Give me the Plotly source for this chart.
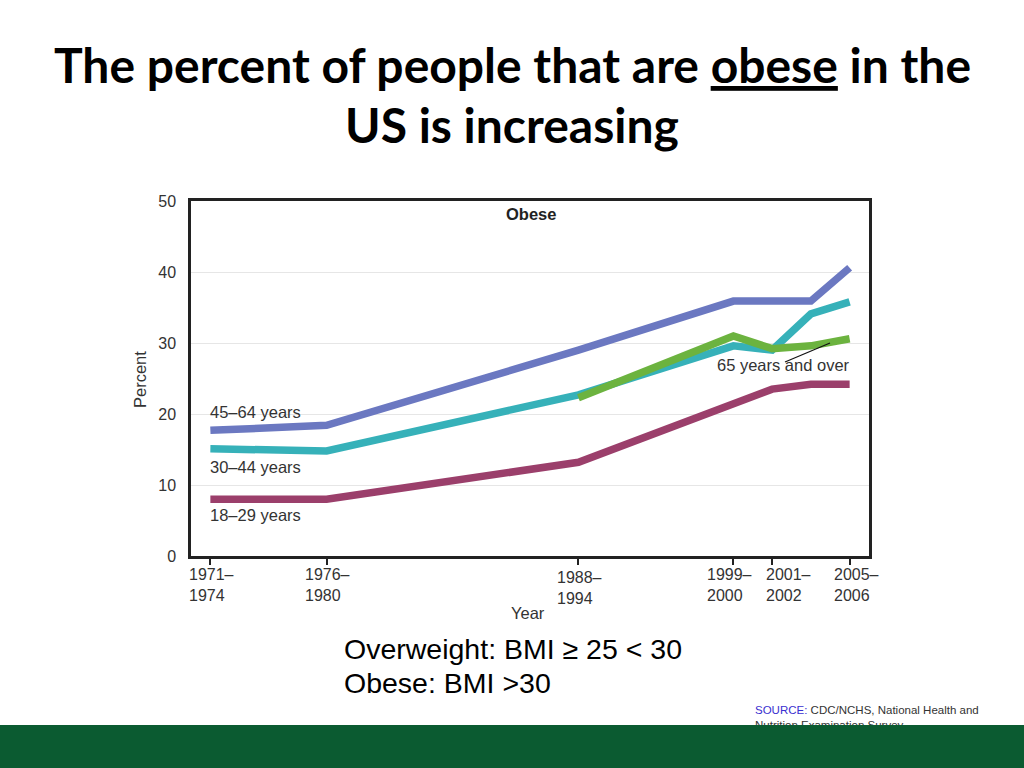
import plotly.graph_objects as go

W, H = 1024, 768

# ---- data ----
periods = [1972.5, 1978.5, 1991.5, 1999.5, 2001.5, 2003.5, 2005.5]
tick_vals = [1972.5, 1978.5, 1991.5, 1999.5, 2001.5, 2005.5]
tick_text = ["1971–<br>1974", "1976–<br>1980", "1988–<br>1994", "1999–<br>2000", "2001–<br>2002", "2005–<br>2006"]

age_45_64 = [17.7, 18.4, 29.0, 35.9, 35.9, 35.9, 40.6]
age_30_44 = [15.1, 14.8, 22.7, 29.6, 29.0, 34.1, 35.8]
age_18_29 = [8.0, 8.0, 13.2, 21.3, 23.5, 24.2, 24.2]
periods_65 = [1991.5, 1999.5, 2001.5, 2003.5, 2005.5]
age_65_over = [22.3, 31.0, 29.2, 29.6, 30.6]

C_BLUE = "#6b78c1"
C_TEAL = "#36b1b9"
C_GREEN = "#6cb33f"
C_MAG = "#9b3f6b"

fig = go.Figure()
for xs, ys, c in [
    (periods, age_18_29, C_MAG),
    (periods, age_30_44, C_TEAL),
    (periods, age_45_64, C_BLUE),
    (periods_65, age_65_over, C_GREEN),
]:
    fig.add_trace(go.Scatter(x=xs, y=ys, mode="lines",
                             line=dict(color=c, width=7.5), showlegend=False,
                             hoverinfo="skip"))

def px(x):
    return x / W

def py(y):
    return 1 - y / H

FONT = "Liberation Sans, Arial"
axis_font = dict(family=FONT, size=16, color="#333333")

fig.update_layout(
    autosize=True,
    margin=dict(l=0, r=0, t=0, b=0, autoexpand=False),
    paper_bgcolor="white", plot_bgcolor="white",
    xaxis=dict(domain=[px(191), px(869)], range=[1971.5, 2006.5],
               tickmode="array", tickvals=tick_vals, showticklabels=False,
               showline=True, linecolor="#222222", linewidth=2.5, mirror=True,
               ticks="outside", ticklen=6, tickwidth=2, tickcolor="#222222",
               showgrid=False, zeroline=False),
    yaxis=dict(domain=[py(556), py(201)], range=[0, 50],
               tickvals=[0, 10, 20, 30, 40, 50],
               showline=True, linecolor="#222222", linewidth=2.5, mirror=True,
               ticks="", showgrid=True, gridcolor="#e6e6e6", gridwidth=1,
               zeroline=False, tickfont=axis_font, ticklabelstandoff=9),
)

ann = []
def A(text, x, y, size=16.5, xanchor="left", yanchor="middle", color="#333333",
      family=FONT, **kw):
    ann.append(dict(text=text, x=px(x), y=py(y), xref="paper", yref="paper",
                    showarrow=False, xanchor=xanchor, yanchor=yanchor,
                    font=dict(size=size, color=color, family=family), **kw))

# x tick labels: left-aligned, placed on the x scale
label_shift = [-23, -24, -23, -28, -8, -18]
label_drop = [0, 0, 3, 0, 0, 0]
for v, t, s, d in zip(tick_vals, tick_text, label_shift, label_drop):
    ann.append(dict(text=t, x=v, xref="x", y=py(564 + d), yref="paper",
                    showarrow=False, xanchor="left", yanchor="top",
                    xshift=s, align="left",
                    font=dict(size=16, color="#333333", family=FONT)))

# title
A("<b>The percent of people that are <u>obese</u> in the</b>", 512, 64, size=48,
  xanchor="center", color="#000000", family="Lato, Open Sans")
A("<b>US is increasing</b>", 512, 125, size=48, xanchor="center", color="#000000",
  family="Lato, Open Sans")

A("<b>Obese</b>", 531, 214, size=16.5, xanchor="center", color="#222222")
A("45–64 years", 208, 412)
A("30–44 years", 208, 467)
A("18–29 years", 208, 515)
A("65 years and over", 715, 365)
A("Percent", 140, 380, textangle=-90, xanchor="center")
A("Year", 528, 613, xanchor="center")

A("Overweight: BMI ≥ 25 < 30", 342, 649, size=28.5, color="#000000")
A("Obese: BMI >30", 342, 683, size=28.5, color="#000000")
A("<span style='color:#3a2fd0'>SOURCE:</span> CDC/NCHS, National Health and<br>Nutrition Examination Survey.",
  753, 702, size=11.5, color="#333333", yanchor="top", align="left")

# green footer bar drawn as an annotation so it covers the source's second line
ann.append(dict(text=" ", x=0, y=0, xref="paper", yref="paper", showarrow=False,
                xanchor="left", yanchor="bottom", width=W, height=H - 725,
                bgcolor="#0b5b31", borderpad=0, borderwidth=0))

fig.update_layout(annotations=ann)

# pointer line for 65 years and over
fig.add_shape(type="line", xref="paper", yref="paper",
              x0=px(785), y0=py(362), x1=px(830), y1=py(343),
              line=dict(color="#111111", width=1.2))

fig.write_html(
    "out.html",
    default_width="100vw",
    default_height="100vh",
    config={"displayModeBar": False},
    post_script=(
        "document.documentElement.style.margin='0px';"
        "document.body.style.margin='0px';"
        "document.body.style.overflow='hidden';"
        "var g=document.querySelector('.plotly-graph-div');"
        "g.style.position='fixed';g.style.left='0px';g.style.top='0px';"
    ),
)
